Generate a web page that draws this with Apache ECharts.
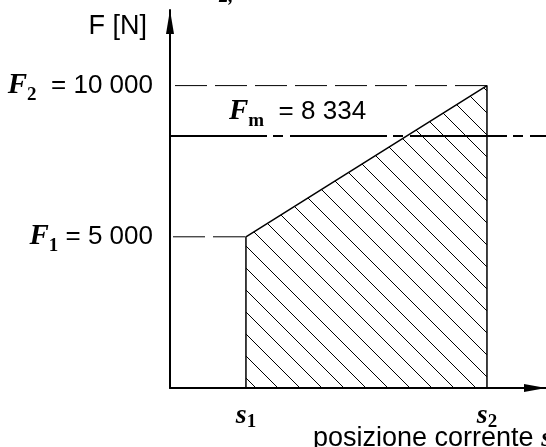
<!DOCTYPE html>
<html>
<head>
<meta charset="utf-8">
<script src="https://cdn.jsdelivr.net/npm/echarts@6/dist/echarts.min.js"></script>
<style>
  html, body { margin: 0; padding: 0; background: #fff; }
  #chart { width: 546px; height: 447px; }
</style>
</head>
<body>
<div id="chart"></div>
<script>
// Force at the two end positions of the stroke and the mean force, in N
const forceLevels = [5000, 10000];      // F1, F2
const forceSubscripts = ['1', '2'];
const meanForce = 8334;                 // Fm
const meanSubscript = 'm';
// Start and end position along the s axis (arbitrary length units)
const positions = [20.2, 84.3];         // s1, s2
const positionSubscripts = ['1', '2'];
// Axis extents
const sMax = 100;
const forceMax = 12500;

const INK = '#000';
const SERIF = 'Liberation Serif';
const SANS = 'Liberation Sans';

// thousands separated by a space: 10000 -> "10 000"
function fmt(v) {
  return String(v).replace(/\B(?=(\d{3})+(?!\d))/g, ' ');
}

// tile with one "\" stroke, repeated to hatch the work area
function hatchTile(step) {
  const c = document.createElement('canvas');
  c.width = step; c.height = step;
  const g = c.getContext('2d');
  g.strokeStyle = INK;
  g.lineWidth = 1;
  g.beginPath();
  for (let k = -1; k <= 1; k++) {
    g.moveTo(-1, -1 + k * step);
    g.lineTo(step + 1, step + 1 + k * step);
  }
  g.stroke();
  return c;
}

const richLabel = {
  F:   { fontFamily: SERIF, fontStyle: 'italic', fontWeight: 'bold', fontSize: 29, lineHeight: 38, color: INK },
  s:   { fontFamily: SERIF, fontStyle: 'italic', fontWeight: 'bold', fontSize: 28, lineHeight: 33, color: INK },
  sub: { fontFamily: SERIF, fontWeight: 'bold', fontSize: 19, lineHeight: 18, verticalAlign: 'bottom', color: INK },
  n:   { fontFamily: SANS, fontSize: 26, lineHeight: 38, color: INK },
  nb:  { fontFamily: SANS, fontSize: 27, lineHeight: 38, color: INK }
};

const chart = echarts.init(document.getElementById('chart'), null, { renderer: 'canvas' });

const option = {
  animation: false,
  backgroundColor: '#fff',
  grid: { left: 170, right: 0, top: 10, bottom: 59, outerBoundsMode: 'none' },
  xAxis: {
    type: 'value',
    min: 0,
    max: sMax,
    splitLine: { show: false },
    axisTick: { show: false },
    axisLine: {
      show: true,
      onZero: false,
      symbol: ['none', 'triangle'],
      symbolSize: [8, 22],
      symbolOffset: [0, -11],
      lineStyle: { color: INK, width: 2 }
    },
    axisLabel: {
      customValues: positions,
      margin: 11,
      formatter: function (v) {
        const i = positions.indexOf(v);
        return '{s|s}{sub|' + positionSubscripts[i] + '}';
      },
      rich: richLabel
    }
  },
  yAxis: {
    type: 'value',
    min: 0,
    max: forceMax,
    splitLine: { show: false },
    axisTick: { show: false },
    axisLine: {
      show: true,
      onZero: false,
      symbol: ['none', 'triangle'],
      symbolSize: [8, 24],
      symbolOffset: [0, -12],
      lineStyle: { color: INK, width: 2 }
    },
    axisLabel: {
      customValues: forceLevels,
      margin: 17,
      formatter: function (v) {
        const i = forceLevels.indexOf(v);
        const gap = i === 1 ? '  = ' : ' = ';
        return '{F|F}{sub|' + forceSubscripts[i] + '}{n|' + gap + fmt(v) + '}';
      },
      rich: richLabel
    }
  },
  series: [
    {
      // hatched work area between s1 and s2
      type: 'line',
      data: [[positions[0], 0], [positions[0], forceLevels[0]], [positions[1], forceLevels[1]], [positions[1], 0]],
      symbol: 'none',
      clip: false,
      lineStyle: { color: INK, width: 1.5 },
      areaStyle: { color: { image: hatchTile(22), repeat: 'repeat' }, opacity: 1 },
      z: 2
    },
    {
      // F1 reference
      type: 'line',
      data: [[0, forceLevels[0]], [positions[0], forceLevels[0]]],
      symbol: 'none',
      lineStyle: { color: INK, width: 1, type: [32, 8], dashOffset: 37 },
      z: 3
    },
    {
      // F2 reference
      type: 'line',
      data: [[0, forceLevels[1]], [positions[1], forceLevels[1]]],
      symbol: 'none',
      lineStyle: { color: INK, width: 1, type: [32, 8], dashOffset: 35 },
      z: 3
    },
    {
      // mean force Fm
      type: 'line',
      data: [[0, meanForce], [sMax, meanForce]],
      symbol: 'none',
      clip: false,
      lineStyle: { color: INK, width: 2, type: [97, 6, 10, 7], dashOffset: 0 },
      z: 4
    }
  ]
};

chart.setOption(option);

// free-standing texts: axis titles and the Fm label
const yFm = chart.convertToPixel({ yAxisIndex: 0 }, meanForce);
chart.setOption({
  graphic: [
    {
      type: 'text', x: 147, y: 27,
      style: { text: 'F [N]', fontFamily: SANS, fontSize: 27, fill: INK, align: 'right', verticalAlign: 'middle' }
    },
    {
      type: 'text', x: 229, y: yFm - 24,
      style: {
        text: '{F|F}{sub|' + meanSubscript + '}{n|  = ' + fmt(meanForce) + '}',
        rich: richLabel, align: 'left', verticalAlign: 'middle'
      }
    },
    {
      type: 'text', x: 313, y: 439,
      style: {
        text: '{nb|posizione corrente }{s|s}',
        rich: richLabel, align: 'left', verticalAlign: 'middle'
      }
    },
    {
      type: 'text', x: 219, y: 7,
      style: {
        text: '2,', fontFamily: SERIF, fontStyle: 'italic', fontWeight: 'bold', fontSize: 19,
        fill: INK, align: 'left', verticalAlign: 'bottom'
      }
    }
  ]
});
</script>
</body>
</html>
